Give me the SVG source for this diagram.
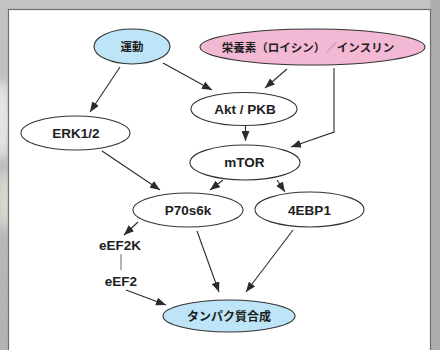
<svg xmlns="http://www.w3.org/2000/svg" width="440" height="350" viewBox="0 0 440 350">
  <defs>
    <marker id="arrow" markerUnits="userSpaceOnUse" markerWidth="10" markerHeight="8" refX="10" refY="4" orient="auto">
      <path d="M0,0 L10,4 L0,8 z" fill="#2b2b2b"/>
    </marker>
    <filter id="soft" x="-50%" y="-50%" width="200%" height="200%">
      <feGaussianBlur stdDeviation="4"/>
    </filter>
    <linearGradient id="frame" x1="0" y1="0" x2="0" y2="1">
      <stop offset="0" stop-color="#c4c3c1"/>
      <stop offset="1" stop-color="#b4b2b0"/>
    </linearGradient>
    <style>
      .node { stroke: #333; stroke-width: 1.1; }
      .plain { fill: #fff; }
      .blue { fill: #bde5f7; }
      .pink { fill: #f3b8d3; }
      .lbl { font-family: "Liberation Sans", "Noto Sans CJK JP", sans-serif; font-weight: bold; fill: #1e1e1e; text-anchor: middle; }
      .lat { font-size: 13.5px; }
      .jp { font-size: 11.5px; }
      .jp-lg { font-size: 12px; }
      .edge { fill: none; stroke: #2b2b2b; stroke-width: 1.1; marker-end: url(#arrow); }
      .link { fill: none; stroke: #777; stroke-width: 1.1; }
    </style>
  </defs>

  <!-- frame background -->
  <rect x="0" y="0" width="440" height="350" fill="url(#frame)"/>
  <g filter="url(#soft)" opacity="0.8">
    <ellipse cx="2" cy="120" rx="8" ry="40" fill="#f4f2ee"/>
    <ellipse cx="4" cy="200" rx="6" ry="30" fill="#e8e4de"/>
  </g>
  <rect x="430.5" y="0" width="9.5" height="350" fill="#afadab"/>

  <!-- white panel -->
  <rect x="8.5" y="9.5" width="422" height="350" fill="#ffffff" stroke="#6d6d6d" stroke-width="1.2"/>

  <!-- connectors -->
  <g id="connectors">
    <line class="edge" x1="120" y1="67" x2="90" y2="112"/>
    <line class="edge" x1="163" y1="63" x2="212" y2="90"/>
    <line class="edge" x1="287" y1="69" x2="265" y2="88"/>
    <polyline class="edge" points="334,68 334,132 291,147"/>
    <line class="edge" x1="245.5" y1="126" x2="245.5" y2="141"/>
    <line class="edge" x1="102" y1="151" x2="160" y2="190"/>
    <line class="edge" x1="223" y1="180" x2="210" y2="190"/>
    <line class="edge" x1="277" y1="180" x2="285" y2="192"/>
    <line class="edge" x1="138" y1="222" x2="124" y2="235"/>
    <line class="edge" x1="197" y1="231" x2="219" y2="292"/>
    <line class="edge" x1="293" y1="230" x2="246" y2="292"/>
    <line class="edge" x1="126" y1="290" x2="166" y2="305"/>
    <line class="link" x1="121" y1="254" x2="121" y2="270"/>
  </g>

  <!-- nodes -->
  <g id="exercise">
    <ellipse class="node blue" cx="132" cy="46.5" rx="38" ry="17.5"/>
    <text class="lbl jp" x="132" y="50.5">運動</text>
  </g>
  <g id="nutrients">
    <ellipse class="node pink" cx="312.5" cy="47" rx="112.5" ry="18"/>
    <text class="lbl jp" x="308" y="51.5">栄養素（ロイシン）<tspan fill="#8a8a8a" font-weight="normal">／</tspan>インスリン</text>
  </g>
  <g id="erk">
    <ellipse class="node plain" cx="75.5" cy="133" rx="54.5" ry="17"/>
    <text class="lbl lat" x="76" y="137.8">ERK1/2</text>
  </g>
  <g id="akt">
    <ellipse class="node plain" cx="244" cy="109" rx="53" ry="16.5"/>
    <text class="lbl lat" x="245" y="113.5">Akt / PKB</text>
  </g>
  <g id="mtor">
    <ellipse class="node plain" cx="245" cy="162.5" rx="55" ry="17.5"/>
    <text class="lbl lat" x="244.5" y="167.3">mTOR</text>
  </g>
  <g id="p70s6k">
    <ellipse class="node plain" cx="188" cy="210" rx="55" ry="17"/>
    <text class="lbl lat" x="188" y="215">P70s6k</text>
  </g>
  <g id="4ebp1">
    <ellipse class="node plain" cx="309.5" cy="209.5" rx="54.5" ry="17.5"/>
    <text class="lbl lat" x="309.5" y="215">4EBP1</text>
  </g>
  <g id="eef2k">
    <text class="lbl lat" x="120" y="250">eEF2K</text>
  </g>
  <g id="eef2">
    <text class="lbl lat" x="121" y="285.5">eEF2</text>
  </g>
  <g id="protein-synthesis">
    <ellipse class="node blue" cx="229" cy="316" rx="66" ry="16"/>
    <text class="lbl jp-lg" x="229" y="320.5">タンパク質合成</text>
  </g>
</svg>
